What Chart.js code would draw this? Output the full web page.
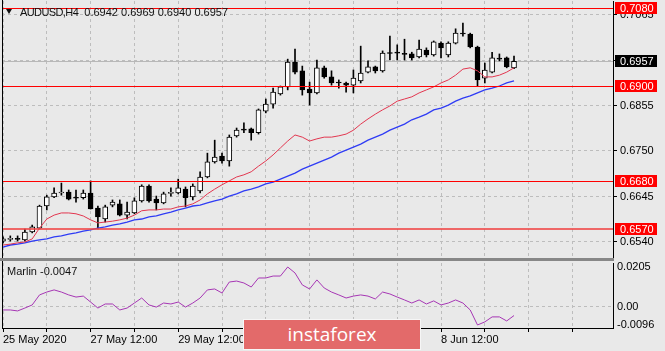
<!DOCTYPE html>
<html><head><meta charset="utf-8">
<script src="https://cdn.jsdelivr.net/npm/chart.js@4.4.1/dist/chart.umd.min.js"></script>
<style>
html,body{margin:0;padding:0;background:#e9e9e9;}
#wrap{position:relative;width:665px;height:351px;overflow:hidden;background:#e9e9e9;font-family:"Liberation Sans",Arial,sans-serif;}
#c1{position:absolute;left:0;top:0;}
#c2{position:absolute;left:0;top:259px;}
.t{position:absolute;white-space:nowrap;color:#111;font-size:11px;line-height:13px;}
#sep{position:absolute;left:0;top:258px;width:614px;height:3px;background:#878787;}
#wm{position:absolute;left:243px;top:319px;width:178px;height:31px;background:#e36a6a;border:1px solid #f6f6f6;box-sizing:border-box;color:#fff;font-family:"Open Sans",sans-serif;font-size:19px;text-align:center;line-height:28px;}
#tri{position:absolute;left:6px;top:9px;width:0;height:0;border-left:3.5px solid transparent;border-right:3.5px solid transparent;border-top:5px solid #111;}
</style></head>
<body>
<div id="wrap">
<canvas id="c1" width="665" height="259"></canvas>
<canvas id="c2" width="665" height="92"></canvas>
<div id="sep"></div>
<div id="tri"></div>
<div class="t" style="left:20px;top:6px;"><span style="letter-spacing:-0.6px;">AUDUSD,H4</span>&nbsp; 0.6942 0.6969 0.6940 0.6957</div>
<div class="t" style="left:7px;top:265px;">Marlin -0.0047</div>
<div id="wm">instaforex</div>
</div>
<script>
// ---- data ----
const opens  = [0.6542,0.6546,0.6547,0.6545,0.6563,0.6572,0.6623,0.6644,0.6653,0.6655,0.6642,0.6642,0.6653,0.6618,0.6593,0.6625,0.6628,0.6602,0.6607,0.6635,0.6669,0.6639,0.6630,0.6652,0.6653,0.6662,0.6644,0.6658,0.6690,0.6725,0.6738,0.6727,0.6785,0.6798,0.6801,0.6792,0.6842,0.6858,0.6882,0.6898,0.6955,0.6935,0.6893,0.6884,0.6942,0.6921,0.6907,0.6907,0.6902,0.6912,0.6932,0.6944,0.6935,0.6976,0.6976,0.6974,0.6974,0.6967,0.6983,0.6972,0.6999,0.6972,0.6999,0.7020,0.7020,0.6990,0.6918,0.6932,0.6962,0.6965,0.6942];
const highs  = [0.6552,0.6554,0.6554,0.6570,0.6579,0.6625,0.6648,0.6665,0.6676,0.6660,0.6660,0.6660,0.6681,0.6623,0.6625,0.6637,0.6637,0.6632,0.6642,0.6672,0.6672,0.6646,0.6655,0.6665,0.6685,0.6667,0.6674,0.6702,0.6745,0.6775,0.6745,0.6787,0.6803,0.6815,0.6803,0.6847,0.6870,0.6895,0.6900,0.6962,0.6985,0.6946,0.6909,0.6960,0.6946,0.6935,0.6914,0.6909,0.6937,0.6992,0.6958,0.6946,0.6981,0.7015,0.6995,0.7008,0.6978,0.7006,0.6988,0.7004,0.7002,0.7002,0.7032,0.7045,0.7022,0.6992,0.6953,0.6978,0.6974,0.6967,0.6969];
const lows   = [0.6538,0.6542,0.6542,0.6542,0.6561,0.6570,0.6614,0.6642,0.6648,0.6637,0.6632,0.6639,0.6616,0.6570,0.6586,0.6621,0.6600,0.6593,0.6605,0.6632,0.6632,0.6614,0.6628,0.6646,0.6651,0.6621,0.6637,0.6653,0.6688,0.6722,0.6722,0.6715,0.6782,0.6792,0.6775,0.6789,0.6838,0.6849,0.6879,0.6891,0.6928,0.6879,0.6856,0.6882,0.6918,0.6902,0.6895,0.6886,0.6884,0.6907,0.6930,0.6930,0.6932,0.6960,0.6960,0.6960,0.6960,0.6965,0.6967,0.6969,0.6965,0.6967,0.6997,0.7015,0.6988,0.6900,0.6907,0.6930,0.6958,0.6942,0.6940];
const closes = [0.6547,0.6547,0.6546,0.6563,0.6575,0.6623,0.6644,0.6653,0.6654,0.6639,0.6641,0.6653,0.6616,0.6598,0.6621,0.6632,0.6602,0.6609,0.6635,0.6669,0.6635,0.6630,0.6651,0.6653,0.6665,0.6642,0.6669,0.6690,0.6725,0.6736,0.6727,0.6782,0.6798,0.6798,0.6792,0.6845,0.6858,0.6886,0.6898,0.6955,0.6932,0.6891,0.6884,0.6942,0.6921,0.6907,0.6907,0.6902,0.6918,0.6930,0.6944,0.6935,0.6976,0.6975,0.6976,0.6973,0.6965,0.6985,0.6972,0.7002,0.6988,0.6999,0.7022,0.7020,0.6990,0.6914,0.6937,0.6965,0.6962,0.6944,0.6957];
const maFast = [0.6533,0.6535,0.6538,0.6540,0.6547,0.6572,0.6593,0.6602,0.6607,0.6607,0.6605,0.6600,0.6591,0.6584,0.6586,0.6588,0.6591,0.6595,0.6602,0.6612,0.6614,0.6614,0.6616,0.6616,0.6621,0.6623,0.6628,0.6637,0.6651,0.6662,0.6672,0.6681,0.6690,0.6695,0.6702,0.6715,0.6727,0.6741,0.6757,0.6773,0.6787,0.6782,0.6773,0.6778,0.6782,0.6782,0.6785,0.6789,0.6798,0.6812,0.6824,0.6835,0.6845,0.6854,0.6865,0.6870,0.6875,0.6884,0.6891,0.6898,0.6907,0.6914,0.6925,0.6939,0.6942,0.6935,0.6921,0.6921,0.6925,0.6932,0.6942];
const maSlow = [0.6528,0.6533,0.6535,0.6538,0.6542,0.6545,0.6547,0.6552,0.6554,0.6558,0.6561,0.6565,0.6568,0.6572,0.6575,0.6579,0.6582,0.6586,0.6591,0.6593,0.6598,0.6600,0.6605,0.6609,0.6614,0.6618,0.6623,0.6625,0.6630,0.6635,0.6639,0.6646,0.6651,0.6658,0.6662,0.6667,0.6674,0.6678,0.6685,0.6692,0.6699,0.6708,0.6715,0.6722,0.6729,0.6736,0.6745,0.6752,0.6759,0.6766,0.6775,0.6782,0.6789,0.6798,0.6805,0.6812,0.6822,0.6828,0.6835,0.6845,0.6849,0.6856,0.6865,0.6872,0.6877,0.6884,0.6891,0.6895,0.6900,0.6907,0.6912];
const marlin = [-0.0018,-0.0018,-0.0023,-0.0008,0.0008,0.0060,0.0075,0.0086,0.0075,0.0060,0.0049,0.0054,0.0023,-0.0008,0.0013,0.0013,-0.0018,-0.0008,0.0018,0.0044,0.0008,-0.0003,0.0018,0.0013,0.0023,-0.0003,0.0018,0.0044,0.0086,0.0091,0.0070,0.0127,0.0132,0.0122,0.0101,0.0148,0.0148,0.0158,0.0158,0.0205,0.0174,0.0112,0.0091,0.0138,0.0096,0.0075,0.0060,0.0044,0.0054,0.0060,0.0054,0.0039,0.0075,0.0065,0.0049,0.0034,0.0018,0.0034,0.0013,0.0029,0.0008,0.0018,0.0034,0.0018,-0.0018,-0.0096,-0.0080,-0.0054,-0.0054,-0.0075,-0.0047];
const priceTicks  = [0.6540,0.6645,0.6750,0.6855,0.6960,0.7065];
const marlinTicks = [0.0205,0,-0.0096];
const levels = [0.7080,0.6900,0.6680,0.6570];
const bidPrice = 0.6957;
const dateTickBars = [1,13,25,37,49,61];
const dateTickText = ['25 May 2020','27 May 12:00','29 May 12:00','2 Jun 12:00','4 Jun 12:00','8 Jun 12:00'];

// ---- layout constants ----
const X_MIN = 0.863, X_MAX = 84.56;
const P_MIN = 0.65030, P_MAX = 0.70962;
const M_MIN = -0.01116, M_MAX = 0.02257;
const FONT = {family:'"Liberation Sans", Arial, sans-serif', size:11};
Chart.defaults.font.family = FONT.family;
Chart.defaults.font.size = 11;
Chart.defaults.color = '#000';

const bars = opens.map((_, k) => k + 1);
const gridBars = [];
for (let b = 1; b <= X_MAX; b += 6) gridBars.push(b);

const levelStyle = [
  {color:'#ff0000', width:1},
  {color:'#ff0000', width:1},
  {color:'#ff0000', width:1},
  {color:'rgba(240,70,70,0.8)', width:2}
];

function hline(ctx, x1, x2, y, w, c){
  ctx.beginPath(); ctx.strokeStyle = c; ctx.lineWidth = w;
  const yy = w % 2 ? Math.round(y) + 0.5 : Math.round(y);
  ctx.moveTo(x1, yy); ctx.lineTo(x2, yy); ctx.stroke();
}
function leftBorder(chart){
  const {ctx, chartArea:a} = chart;
  ctx.save(); ctx.strokeStyle = '#000'; ctx.lineWidth = 1;
  ctx.beginPath(); ctx.moveTo(Math.round(a.left)+0.5, 0); ctx.lineTo(Math.round(a.left)+0.5, a.bottom); ctx.stroke();
  ctx.restore();
}

const pricePlugin = {
  id:'pricePlugin',
  beforeDatasetsDraw(chart){
    const {ctx, chartArea:a, scales:{y}} = chart;
    ctx.save();
    hline(ctx, a.left, a.right, y.getPixelForValue(bidPrice), 1, '#b8b8b8');
    ctx.restore();
  },
  afterDatasetsDraw(chart){
    const {ctx, chartArea:a, scales:{y}} = chart;
    ctx.save();
    levels.forEach((v, k) => hline(ctx, a.left, a.right, y.getPixelForValue(v), levelStyle[k].width, levelStyle[k].color));
    ctx.restore();
  },
  afterDraw(chart){
    const {ctx, chartArea:a, scales:{y}} = chart;
    leftBorder(chart);
    ctx.save();
    ctx.font = '11px ' + FONT.family; ctx.textBaseline = 'middle'; ctx.textAlign = 'left';
    const box = (v, bg) => {
      const py = Math.round(y.getPixelForValue(v));
      ctx.fillStyle = bg; ctx.fillRect(a.right + 2, py - 6, 42, 12);
      ctx.fillStyle = '#fff'; ctx.fillText(v.toFixed(4), a.right + 7, py + 0.5);
    };
    levels.forEach(v => box(v, '#ff0000'));
    box(bidPrice, '#000');
    ctx.restore();
  }
};

const marlinPlugin = { id:'marlinPlugin', afterDraw(chart){ leftBorder(chart); } };

const xCommon = {
  type:'linear', min:X_MIN, max:X_MAX, offset:false,
  afterBuildTicks(ax){ ax.ticks = gridBars.map(v => ({value:v})); }
};

new Chart(document.getElementById('c1'), {
  type:'bar',
  data:{ datasets:[
    {type:'line', data:bars.map((b,k)=>({x:b,y:maFast[k]})), borderColor:'#e2364f', borderWidth:1, pointRadius:0, tension:0, order:0},
    {type:'line', data:bars.map((b,k)=>({x:b,y:maSlow[k]})), borderColor:'#2f3cf5', borderWidth:1.3, pointRadius:0, tension:0, order:0},
    {type:'bar', data:bars.map((b,k)=>({x:b,y:[opens[k],closes[k]]})), barThickness:5, minBarLength:1, grouped:false,
      backgroundColor:bars.map((b,k)=> closes[k] > opens[k] ? '#ffffff' : '#000000'),
      borderColor:'#000', borderWidth:1, borderSkipped:false, order:1},
    {type:'bar', data:bars.map((b,k)=>({x:b,y:[lows[k],highs[k]]})), barThickness:1, grouped:false,
      backgroundColor:'#000', borderWidth:0, order:2}
  ]},
  options:{
    responsive:false, animation:false,
    layout:{padding:{left:2, right:0, top:1, bottom:1}},
    plugins:{legend:{display:false}, tooltip:{enabled:false}},
    scales:{
      x:Object.assign({}, xCommon, {
        display:true,
        ticks:{display:false},
        grid:{display:true, drawTicks:false, color:'#bdbdbd', offset:false},
        border:{display:false, dash:[3,3]},
        afterFit(ax){ ax.height = 0; ax.paddingLeft = 0; ax.paddingRight = 0; }
      }),
      y:{
        type:'linear', position:'right', min:P_MIN, max:P_MAX,
        afterBuildTicks(ax){ ax.ticks = priceTicks.map(v => ({value:v})); },
        ticks:{padding:3, color:'#000', font:FONT, callback:v => Number(v).toFixed(4)},
        grid:{color:'#bdbdbd', tickColor:'#000', tickLength:4, drawOnChartArea:true},
        border:{display:true, color:'#000', width:1, dash:[3,3]},
        afterFit(ax){ ax.width = 52; ax.paddingTop = 0; ax.paddingBottom = 0; }
      }
    }
  },
  plugins:[pricePlugin]
});

new Chart(document.getElementById('c2'), {
  type:'line',
  data:{ datasets:[
    {data:bars.map((b,k)=>({x:b,y:marlin[k]})), borderColor:'#a636b4', borderWidth:1, pointRadius:0, tension:0}
  ]},
  options:{
    responsive:false, animation:false,
    layout:{padding:{left:2, right:0, top:4, bottom:0}},
    plugins:{legend:{display:false}, tooltip:{enabled:false}},
    scales:{
      x:Object.assign({}, xCommon, {
        display:true,
        ticks:{autoSkip:false, maxRotation:0, minRotation:0, align:'start', padding:1, color:'#000', font:FONT,
          callback(v){ const i = dateTickBars.indexOf(v); return i >= 0 ? dateTickText[i] : ''; }},
        grid:{display:true, color:'#bdbdbd', tickColor:'#000', tickLength:4, offset:false},
        border:{display:true, color:'#000', width:1, dash:[3,3]},
        afterFit(ax){ ax.height = 23; ax.paddingLeft = 0; ax.paddingRight = 0; }
      }),
      y:{
        type:'linear', position:'right', min:M_MIN, max:M_MAX,
        afterBuildTicks(ax){ ax.ticks = marlinTicks.map(v => ({value:v})); },
        ticks:{padding:4, color:'#000', font:FONT, callback:v => v === 0 ? '0.00' : String(v)},
        grid:{drawTicks:false, color:c => (c.tick && c.tick.value === 0) ? '#bdbdbd' : 'rgba(0,0,0,0)'},
        border:{display:true, color:'#000', width:1, dash:[3,3]},
        afterFit(ax){ ax.width = 52; ax.paddingTop = 0; ax.paddingBottom = 0; }
      }
    }
  },
  plugins:[marlinPlugin]
});
</script>
</body></html>
